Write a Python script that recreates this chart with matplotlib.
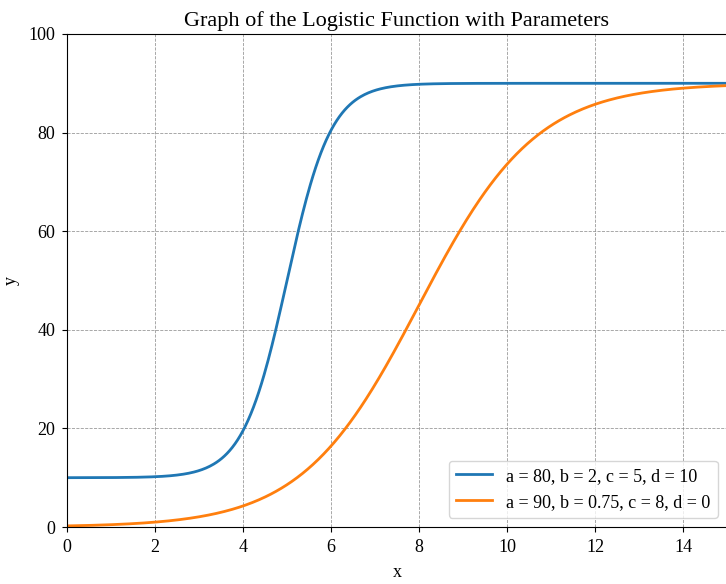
import matplotlib.pyplot as plt
import numpy as np

plt.rcParams['font.family'] = 'Liberation Serif'
plt.rcParams['font.size'] = 13

# Logistic parameters for each curve: y = a / (1 + exp(-b (x - c))) + d
a_vals = [80, 90]
b_vals = [2, 0.75]
c_vals = [5, 8]
d_vals = [10, 0]
colors = ["#1f77b4", "#ff7f0e"]

x = np.linspace(0, 15, 500)

fig = plt.figure(figsize=(7.26, 5.84), dpi=100)
ax = fig.add_axes([67 / 726, 1 - 527 / 584, 660 / 726, 493 / 584])

for a, b, c, d, col in zip(a_vals, b_vals, c_vals, d_vals, colors):
    y = a / (1 + np.exp(-b * (x - c))) + d
    ax.plot(x, y, color=col, linewidth=2,
            label=f"a = {a}, b = {b}, c = {c}, d = {d}")

ax.set_xlim(0, 15)
ax.set_ylim(0, 100)
ax.set_xticks(np.arange(0, 15, 2))
ax.set_title("Graph of the Logistic Function with Parameters", fontsize=16)
ax.set_xlabel("x", fontsize=13, labelpad=6)
ax.set_ylabel("y", fontsize=13, labelpad=6)
ax.tick_params(labelsize=13, pad=5)
ax.grid(True, linestyle='--', color='gray', linewidth=0.6, alpha=0.8)
ax.legend(loc='lower right', fontsize=13)

fig.savefig("out.png", dpi=100)
plt.close()
